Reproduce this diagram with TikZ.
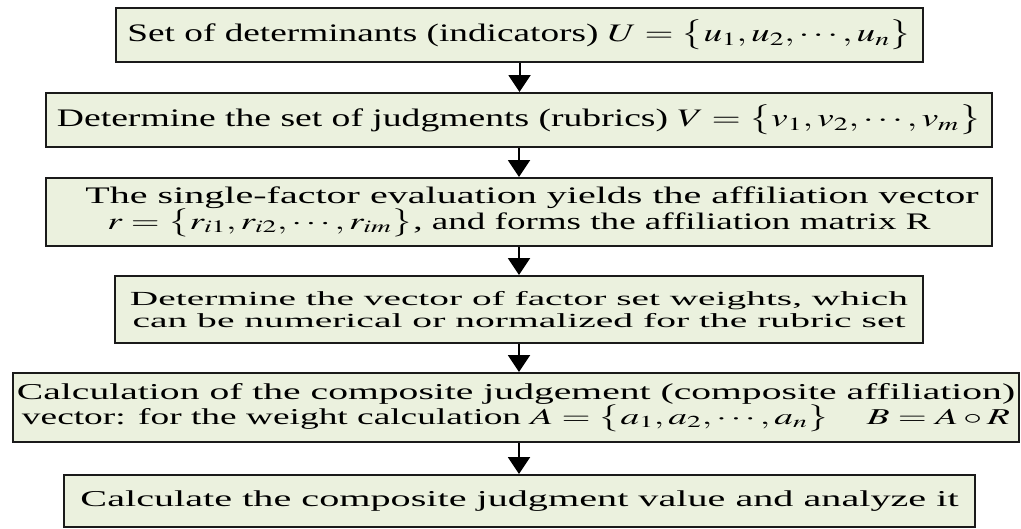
\documentclass[tikz,border=0pt]{standalone}
\usepackage{mathptmx}
\usepackage[no-math]{fontspec}
\setmainfont{Liberation Serif}
\usepackage{graphicx}
\usetikzlibrary{arrows.meta}
\definecolor{boxfill}{HTML}{EBF1DE}
\definecolor{boxline}{HTML}{1A1A1A}
\newcommand\fitline[2]{\resizebox{#1pt}{\height}{#2}}
\newcommand\fsz[2]{\fontsize{#1}{#2}\selectfont\lineskiplimit=-100pt\relax}
\tikzset{
  stepbox/.style={draw=boxline, line width=2pt, fill=boxfill, inner sep=0pt, align=center, anchor=center},
  flowarrow/.style={draw=black, line width=2pt, -{Triangle[width=22pt,length=17pt]}},
}
\begin{document}
\begin{tikzpicture}[x=1pt,y=-1pt]
\useasboundingbox (0,0) rectangle (1021,528);

\node[stepbox, minimum width=807pt, minimum height=54pt, font=\fsz{25.2}{28}] (b1) at (519.5,35)
  {\fitline{784}{Set of determinants (indicators) $U=\bigl\{u_1,u_2,\cdots,u_n\bigr\}$}};

\node[stepbox, minimum width=946pt, minimum height=54pt, font=\fsz{25.2}{28}] (b2) at (519,120)
  {\fitline{924}{Determine the set of judgments (rubrics) $V=\bigl\{v_1,v_2,\cdots,v_m\bigr\}$}};

\node[stepbox, minimum width=946pt, minimum height=68pt, font=\fsz{23.7}{26}] (b3) at (519,212)
  {\hspace*{26pt}\fitline{893}{The single-factor evaluation yields the affiliation vector}\\
   \fitline{823}{$r=\bigl\{r_{i1},r_{i2},\cdots,r_{im}\bigr\}$, and forms the affiliation matrix R}};

\node[stepbox, minimum width=808pt, minimum height=67pt, font=\fsz{20}{22.5}] (b4) at (519,309.5)
  {\fitline{778}{Determine the vector of factor set weights, which}\\
   \fitline{773}{can be numerical or normalized for the rubric set}};

\node[stepbox, minimum width=1006pt, minimum height=69pt, font=\fsz{22.7}{25}] (b5) at (516,407.5)
  {\fitline{998}{Calculation of the composite judgement (composite affiliation)}\\
   \fitline{988}{vector: for the weight calculation $A=\bigl\{a_1,a_2,\cdots,a_n\bigr\}$\quad$B=A\circ R$}};

\node[stepbox, minimum width=911pt, minimum height=52pt, font=\fsz{22.7}{25}] (b6) at (519.5,501)
  {\fitline{878}{Calculate the composite judgment value and analyze it}};

\draw[flowarrow] (b1.south) -- (b1.south |- b2.north);
\draw[flowarrow] (b2.south) -- (b2.south |- b3.north);
\draw[flowarrow] (b3.south) -- (b3.south |- b4.north);
\draw[flowarrow] (b4.south) -- (b4.south |- b5.north);
\draw[flowarrow] (b5.south -| b4.south) -- (b4.south |- b6.north);
\end{tikzpicture}
\end{document}
